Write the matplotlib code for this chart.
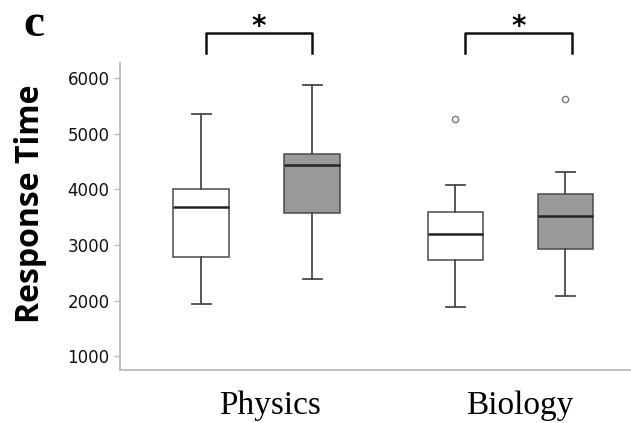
import matplotlib
matplotlib.use("Agg")
import matplotlib.pyplot as plt

# values (response time, ms)
groups = ["Physics", "Biology"]
whislo = [1946, 2387, 1886, 2090]
q1 = [2790, 3571, 2724, 2923]
med = [3687, 4443, 3198, 3528]
q3 = [4000, 4641, 3600, 3921]
whishi = [5366, 5885, 4072, 4306]
fliers = [[], [], [5270], [5625]]
fills = ["white", "#999999", "white", "#999999"]

positions = [0.73, 1.73, 3.02, 4.01]
group_pos = [1.35, 3.60]
brackets = [(0.77, 1.73), (3.11, 4.07)]

stats = []
for i in range(4):
    stats.append(dict(whislo=whislo[i], q1=q1[i], med=med[i], q3=q3[i],
                      whishi=whishi[i], fliers=fliers[i]))

fig = plt.figure(figsize=(6.31, 4.23), dpi=100)
ax = fig.add_axes([120 / 631, 53 / 423, 511 / 631, 307 / 423])

edge = "#4a4a4a"
bp = ax.bxp(stats, positions=positions, widths=0.5, capwidths=0.17,
            patch_artist=True, showfliers=True,
            boxprops=dict(edgecolor=edge, linewidth=1.1),
            medianprops=dict(color="#222222", linewidth=1.8),
            whiskerprops=dict(color=edge, linewidth=1.3),
            capprops=dict(color=edge, linewidth=1.3),
            flierprops=dict(marker="o", markersize=4.5, markerfacecolor="white",
                            markeredgecolor="#777777", markeredgewidth=1.0))
for patch, c in zip(bp["boxes"], fills):
    patch.set_facecolor(c)

ax.set_xlim(0, 4.6)
ax.set_ylim(750, 6275)
ax.set_yticks([1000, 2000, 3000, 4000, 5000, 6000])
ax.tick_params(axis="y", labelsize=12, colors="#bbbbbb", labelcolor="#111111",
               length=4, width=1)
ax.set_xticks(group_pos)
ax.set_xticklabels(groups, fontfamily="Liberation Serif", fontsize=24)
ax.tick_params(axis="x", length=0, pad=15)
for s in ["top", "right"]:
    ax.spines[s].set_visible(False)
for s in ["left", "bottom"]:
    ax.spines[s].set_color("#bbbbbb")
    ax.spines[s].set_linewidth(1.3)

# y label placed by hand, as in the reference
fig.text(31 / 631, 1 - 204 / 423, "Response Time", fontfamily="Open Sans",
         fontweight="bold", fontsize=23, rotation=90, ha="center", va="center")

# significance brackets
for x0, x1 in brackets:
    ax.plot([x0, x0, x1, x1], [6450, 6811, 6811, 6450], color="#111111",
            lw=1.8, clip_on=False)
    ax.text((x0 + x1) / 2, 6920, "*", ha="center", va="center",
            fontsize=20, fontweight="bold", clip_on=False)

fig.text(34 / 631, 1 - 25 / 423, "c", fontfamily="Liberation Serif",
         fontweight="bold", fontsize=34, ha="center", va="center")

fig.savefig("out.png", dpi=100)
